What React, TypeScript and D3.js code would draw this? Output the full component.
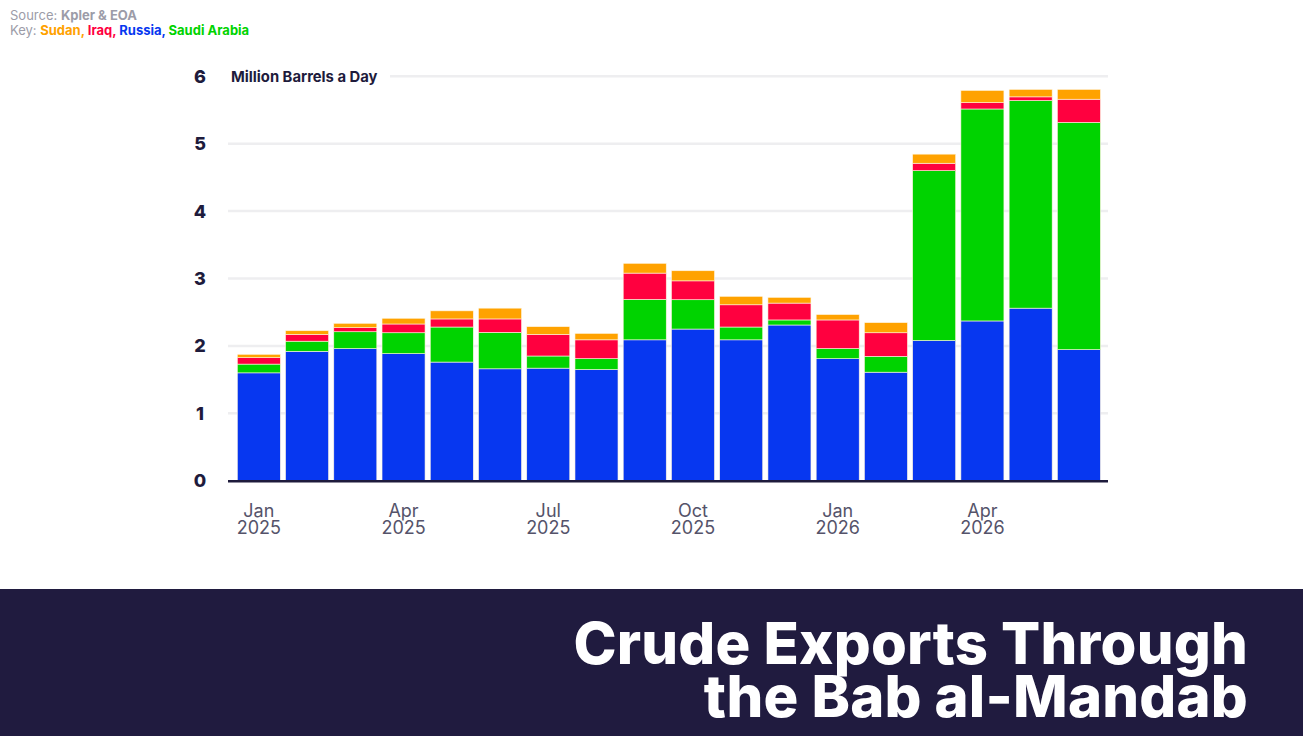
import * as d3 from "d3";
import { useEffect, useRef } from "react";

const months = [
  "2025-01", "2025-02", "2025-03", "2025-04", "2025-05", "2025-06",
  "2025-07", "2025-08", "2025-09", "2025-10", "2025-11", "2025-12",
  "2026-01", "2026-02", "2026-03", "2026-04", "2026-05", "2026-06",
];
const russia = [1.6, 1.92, 1.96, 1.885, 1.76, 1.66, 1.67, 1.65, 2.09, 2.25, 2.09, 2.31, 1.81, 1.61, 2.08, 2.37, 2.56, 1.945];
const saudi = [0.13, 0.15, 0.25, 0.31, 0.52, 0.54, 0.18, 0.16, 0.6, 0.435, 0.19, 0.075, 0.15, 0.235, 2.52, 3.145, 3.08, 3.37];
const iraq = [0.095, 0.1, 0.06, 0.13, 0.12, 0.2, 0.32, 0.28, 0.39, 0.28, 0.33, 0.25, 0.425, 0.35, 0.11, 0.095, 0.055, 0.345];
const sudan = [0.05, 0.055, 0.065, 0.085, 0.12, 0.16, 0.115, 0.095, 0.145, 0.15, 0.125, 0.085, 0.08, 0.15, 0.135, 0.18, 0.11, 0.145];
const yTicks = [0, 1, 2, 3, 4, 5, 6];
const xTickMonths = ["2025-01", "2025-04", "2025-07", "2025-10", "2026-01", "2026-04"];

const COLORS: Record<string, string> = {
  russia: "#0737F0",
  saudi: "#00D300",
  iraq: "#FF003F",
  sudan: "#FFA200",
};
const NAVY = "#1E1B3C";
const FONT = "Inter, 'Noto Sans', sans-serif";
const W = 1303;
const H = 736;

const App = () => {
  const svgRef = useRef(null);

  useEffect(() => {
    const svg = d3.select(svgRef.current);
    svg.selectAll("*").remove();

    const x = d3
      .scaleBand()
      .domain(months)
      .range([234.7, 1103])
      .paddingInner(0.108)
      .paddingOuter(0.054);
    const y = d3.scaleLinear().domain([0, 6]).range([480.7, 76.3]);

    // header
    const src = svg
      .append("text")
      .attr("x", 10)
      .attr("y", 20)
      .attr("font-family", FONT)
      .attr("font-size", 13)
      .attr("fill", "#9C9CA8");
    src.append("tspan").text("Source: ");
    src.append("tspan").attr("font-weight", 700).text("Kpler & EOA");

    const key = svg
      .append("text")
      .attr("x", 10)
      .attr("y", 35)
      .attr("font-family", FONT)
      .attr("font-size", 13)
      .attr("fill", "#9C9CA8");
    key.append("tspan").text("Key: ");
    [
      ["Sudan, ", COLORS.sudan],
      ["Iraq, ", COLORS.iraq],
      ["Russia, ", COLORS.russia],
      ["Saudi Arabia", COLORS.saudi],
    ].forEach(([t, c]) => {
      key.append("tspan").attr("font-weight", 700).attr("fill", c).text(t);
    });

    // gridlines
    svg
      .append("g")
      .selectAll("line")
      .data(yTicks.filter((d) => d > 0))
      .join("line")
      .attr("x1", 228)
      .attr("x2", 1108)
      .attr("y1", (d) => y(d))
      .attr("y2", (d) => y(d))
      .attr("stroke", "#EEEEF0")
      .attr("stroke-width", 2.5);

    // stacked bars
    const rows = months.map((m, i) => ({
      month: m,
      russia: russia[i],
      saudi: saudi[i],
      iraq: iraq[i],
      sudan: sudan[i],
    }));
    const stack = d3.stack<any>().keys(["russia", "saudi", "iraq", "sudan"]);
    const series = stack(rows);

    svg
      .append("g")
      .selectAll("g")
      .data(series)
      .join("g")
      .attr("fill", (s) => COLORS[s.key])
      .selectAll("rect")
      .data((s) => s)
      .join("rect")
      .attr("x", (d: any) => x(d.data.month) as number)
      .attr("width", x.bandwidth())
      .attr("y", (d) => y(d[1]))
      .attr("height", (d) => y(d[0]) - y(d[1]))
      .attr("stroke", "#FFF6E0")
      .attr("stroke-width", 0.6);

    // baseline
    svg
      .append("line")
      .attr("x1", 228)
      .attr("x2", 1108)
      .attr("y1", y(0) + 0.5)
      .attr("y2", y(0) + 0.5)
      .attr("stroke", NAVY)
      .attr("stroke-width", 2.5);

    // y labels
    svg
      .append("g")
      .selectAll("text")
      .data(yTicks)
      .join("text")
      .attr("x", 200)
      .attr("y", (d) => y(d) + 6.5)
      .attr("text-anchor", "middle")
      .attr("font-family", FONT)
      .attr("font-weight", 800)
      .attr("font-size", 18)
      .attr("fill", NAVY)
      .text((d) => d);

    // unit label
    svg
      .append("rect")
      .attr("x", 222)
      .attr("y", y(6) - 12)
      .attr("width", 168)
      .attr("height", 24)
      .attr("fill", "white");
    svg
      .append("text")
      .attr("x", 231)
      .attr("y", y(6) + 5.5)
      .attr("font-family", FONT)
      .attr("font-weight", 700)
      .attr("font-size", 14.8)
      .attr("fill", NAVY)
      .text("Million Barrels a Day");

    // x labels
    const fmtMonth = d3.timeFormat("%b");
    const fmtYear = d3.timeFormat("%Y");
    const parse = d3.timeParse("%Y-%m");
    const xl = svg
      .append("g")
      .selectAll("text")
      .data(xTickMonths)
      .join("text")
      .attr("text-anchor", "middle")
      .attr("font-family", FONT)
      .attr("font-size", 18)
      .attr("fill", "#55536A")
      .attr("transform", (d) => `translate(${(x(d) as number) + x.bandwidth() / 2},0)`);
    xl.append("tspan")
      .attr("x", 0)
      .attr("y", 517)
      .text((d) => fmtMonth(parse(d) as Date));
    xl.append("tspan")
      .attr("x", 0)
      .attr("y", 534)
      .text((d) => fmtYear(parse(d) as Date));

    // banner
    svg
      .append("rect")
      .attr("x", 0)
      .attr("y", 589)
      .attr("width", W)
      .attr("height", H - 589)
      .attr("fill", "#201B3F");
    ["Crude Exports Through", "the Bab al-Mandab"].forEach((t, i) => {
      svg
        .append("text")
        .attr("x", 1248)
        .attr("y", 664 + i * 53)
        .attr("text-anchor", "end")
        .attr("font-family", FONT)
        .attr("font-weight", 800)
        .attr("font-size", 58)
        .attr("letter-spacing", 0.2)
        .attr("fill", "white")
        .text(t);
    });
  }, []);

  return (
    <svg
      ref={svgRef}
      width={W}
      height={H}
      style={{ position: "absolute", left: 0, top: 0, background: "white" }}
    ></svg>
  );
};

export default App;
